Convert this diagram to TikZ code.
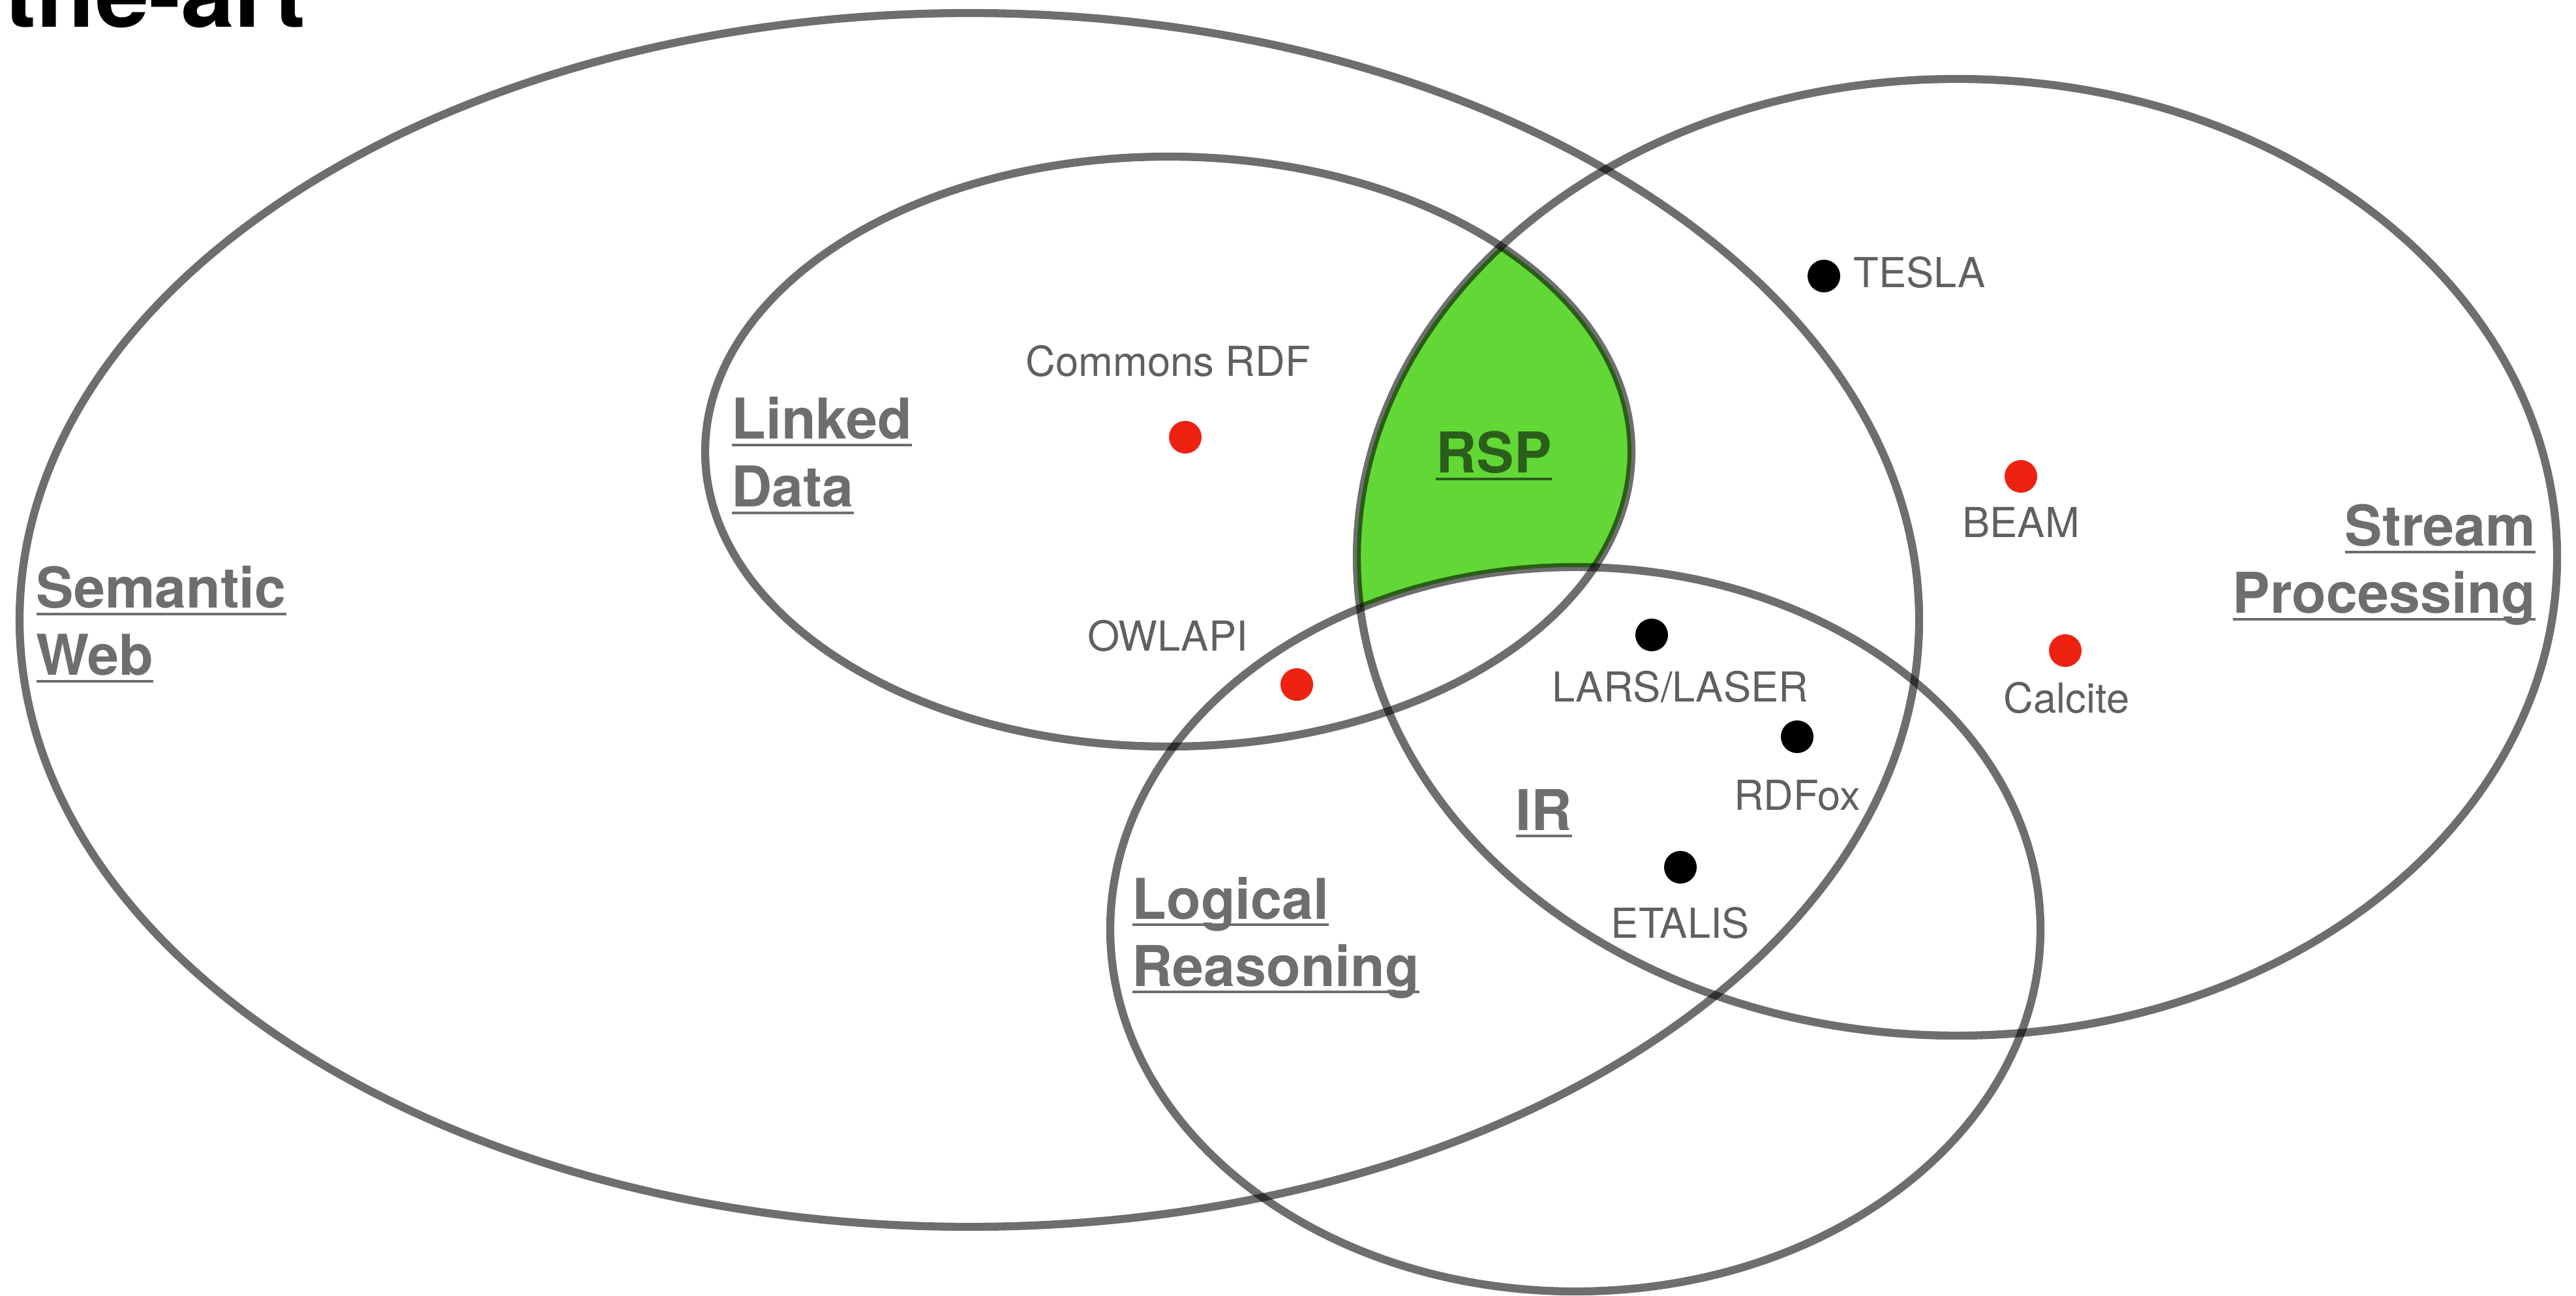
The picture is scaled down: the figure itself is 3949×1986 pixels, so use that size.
\documentclass[tikz,border=0pt]{standalone}
\usepackage{fontspec}
\setmainfont{TeX Gyre Heros}
\definecolor{labelgray}{RGB}{96,96,96}
\definecolor{headgray}{RGB}{110,110,110}
\definecolor{rspgreen}{RGB}{98,216,54}
\definecolor{rspdark}{RGB}{43,94,27}
\definecolor{dotred}{RGB}{238,34,17}
\newcommand\ulword[1]{\setbox0=\hbox{#1}\rlap{\rule[-3.1pt]{\wd0}{1.1pt}}\box0}
\tikzset{
	ring/.style={draw=black, draw opacity=0.57, line width=3.5pt},
	head/.style={headgray, font=\fontsize{24.5pt}{29.5pt}\selectfont\bfseries, inner sep=0pt, anchor=base west},
	tool/.style={labelgray, font=\fontsize{18pt}{21pt}\selectfont, inner sep=0pt, anchor=base},
	reddot/.style={circle, fill=dotred, inner sep=0pt, minimum size=0.5cm},
	blackdot/.style={circle, fill=black, inner sep=0pt, minimum size=0.5cm}
}
\begin{document}
\begin{tikzpicture}[x=0.01cm, y=-0.01cm]
		\fill [white] (0, 0) rectangle (3949, 1986);
		\useasboundingbox (0, 0) rectangle (3949, 1986);
		\coordinate (SW) at (1486, 950);
		\coordinate (LD) at (1791, 692);
		\coordinate (SP) at (3000, 854);
		\coordinate (LR) at (2415, 1424);
		% RSP = Linked Data and Stream Processing, outside Logical Reasoning
		\begin{scope}
			\clip (LD) ellipse [x radius=710, y radius=452];
			\clip (SP) ellipse [x radius=920, y radius=733];
			\fill [rspgreen, even odd rule] (0, 0) rectangle (3949, 1986) (LR) ellipse [x radius=713, y radius=555];
		\end{scope}
		\draw [ring] (SW) ellipse [x radius=1456, y radius=930];
		\draw [ring] (LD) ellipse [x radius=710, y radius=452];
		\draw [ring] (SP) ellipse [x radius=920, y radius=733];
		\draw [ring] (LR) ellipse [x radius=713, y radius=555];
		\node [anchor=base west, inner sep=0pt, font=\fontsize{42pt}{50pt}\selectfont\bfseries] (title) at (6, 42) {the-art};
		\node [head] (sem) at (55, 932) {\ulword{Semantic}};
		\node [head] (web) at (55, 1035) {\ulword{Web}};
		\node [head] (linked) at (1121, 673) {\ulword{Linked}};
		\node [head] (data) at (1121, 777) {\ulword{Data}};
		\node [head] (logical) at (1735, 1408) {\ulword{Logical}};
		\node [head] (reasoning) at (1735, 1511) {\ulword{Reasoning}};
		\node [head, anchor=base east] (stream) at (3888, 837) {\ulword{Stream}};
		\node [head, anchor=base east] (processing) at (3888, 940) {\ulword{Processing}};
		\node [head] (IR) at (2323, 1272) {\ulword{IR}};
		\node [head, rspdark, anchor=base] (RSP) at (2290, 725) {\ulword{RSP}};
		\node [reddot] (commons) at (1817, 670) {};
		\node [tool] (commonsL) at (1791, 577) {Commons RDF};
		\node [reddot] (owlapi) at (1988, 1049) {};
		\node [tool] (owlapiL) at (1790, 998) {OWLAPI};
		\node [blackdot] (tesla) at (2796, 423) {};
		\node [tool, anchor=base west] (teslaL) at (2841, 441) {TESLA};
		\node [reddot] (beam) at (3098, 730) {};
		\node [tool] (beamL) at (3098, 824) {BEAM};
		\node [reddot] (calcite) at (3166, 997) {};
		\node [tool] (calciteL) at (3168, 1093) {Calcite};
		\node [blackdot] (lars) at (2532, 973) {};
		\node [tool] (larsL) at (2576, 1076) {LARS/LASER};
		\node [blackdot] (rdfox) at (2755, 1129) {};
		\node [tool] (rdfoxL) at (2755, 1241) {RDFox};
		\node [blackdot] (etalis) at (2576, 1329) {};
		\node [tool] (etalisL) at (2576, 1437) {ETALIS};
	\end{tikzpicture}
\end{document}
